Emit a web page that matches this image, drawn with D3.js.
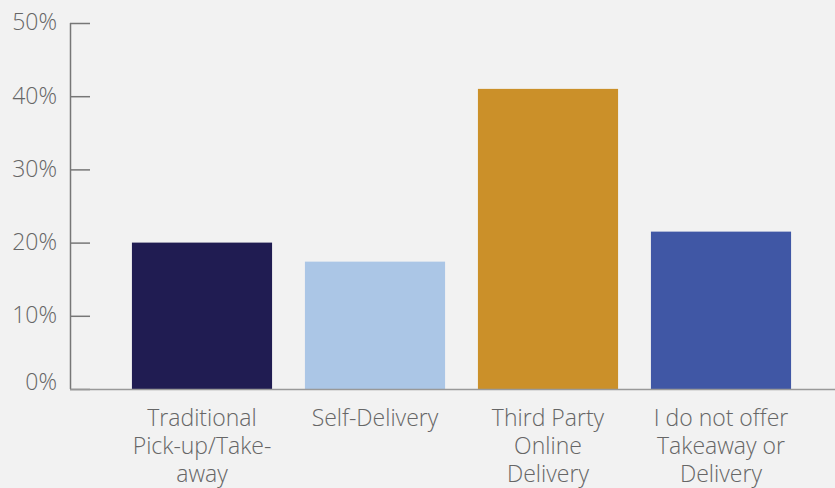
<!DOCTYPE html>
<html>
<head>
<meta charset="utf-8">
<script src="https://cdn.jsdelivr.net/npm/d3@7"></script>
<style>
  html, body { margin: 0; padding: 0; background: #f2f2f2; }
  svg { display: block; }
  text { font-family: "Open Sans", sans-serif; font-weight: 300; fill: #666; }
</style>
</head>
<body>
<svg id="chart" width="835" height="488"></svg>
<script>
const categories = ["Traditional Pick-up/Take-away", "Self-Delivery", "Third Party Online Delivery", "I do not offer Takeaway or Delivery"];
const labelLines = [["Traditional", "Pick-up/Take-", "away"], ["Self-Delivery"], ["Third Party", "Online", "Delivery"], ["I do not offer", "Takeaway or", "Delivery"]];
const values = [0.200, 0.174, 0.410, 0.215];
const colors = ["#201c52", "#abc6e6", "#cb9029", "#4057a5"];
const yTicks = [0, 0.1, 0.2, 0.3, 0.4, 0.5];

const svg = d3.select("#chart");
const x0 = 70, yBase = 389, yTop = 23;

const x = d3.scaleBand().domain(categories).range([115.5, 807.5]).paddingInner(0.19).paddingOuter(0.095);
const y = d3.scaleLinear().domain([0, 0.5]).range([yBase, yTop]);

// y axis
const yAxis = d3.axisLeft(y).tickValues(yTicks).tickFormat(d3.format(".0%")).tickSize(-20).tickPadding(13);
const gy = svg.append("g").attr("transform", `translate(${x0},0)`).call(yAxis);
gy.select(".domain").attr("stroke", "#777").attr("stroke-width", 1.5).attr("d", `M0.5,${yTop}V${yBase}`);
gy.selectAll(".tick line").attr("stroke", "#777").attr("stroke-width", 1.5);
gy.selectAll(".tick text").attr("font-size", 23).attr("fill", "#666").attr("font-family", "Open Sans, sans-serif").attr("font-weight", 300)
  .attr("dy", d => d === 0 ? "0.0em" : "0.3em");

// bars
svg.append("g").selectAll("rect").data(categories).join("rect")
  .attr("x", d => x(d))
  .attr("width", x.bandwidth())
  .attr("y", (d, i) => y(values[i]))
  .attr("height", (d, i) => y(0) - y(values[i]))
  .attr("fill", (d, i) => colors[i]);

// x axis
const xAxis = d3.axisBottom(x).tickSize(0).tickFormat("");
const gx = svg.append("g").attr("transform", `translate(0,${yBase})`).call(xAxis);
gx.select(".domain").attr("stroke", "#999").attr("stroke-width", 1.5).attr("d", `M${x0},0.5H835`);

// category labels
categories.forEach((c, i) => {
  const t = svg.append("text")
    .attr("x", x(c) + x.bandwidth() / 2)
    .attr("y", 426)
    .attr("text-anchor", "middle")
    .attr("font-size", 23);
  labelLines[i].forEach((line, j) => {
    t.append("tspan").attr("x", x(c) + x.bandwidth() / 2).attr("y", 426 + j * 28).text(line);
  });
});
</script>
</body>
</html>
